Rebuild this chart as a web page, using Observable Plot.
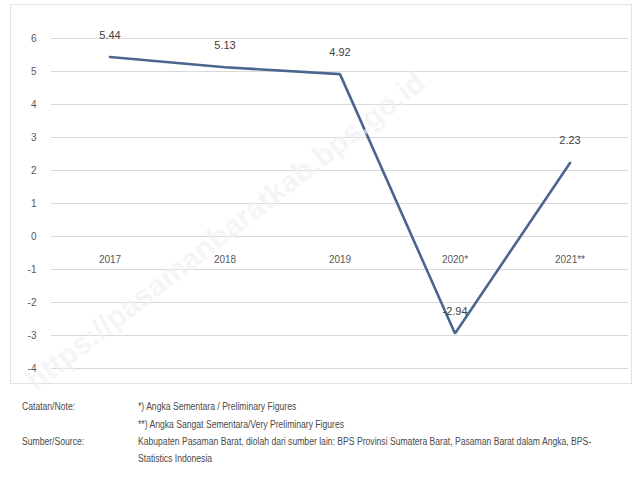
<!DOCTYPE html>
<html>
<head>
<meta charset="utf-8">
<script src="https://cdn.jsdelivr.net/npm/d3@7"></script>
<script src="https://cdn.jsdelivr.net/npm/@observablehq/plot@0.6"></script>
<style>
  html, body { margin: 0; padding: 0; background: #fff; }
  #wrap { position: relative; width: 640px; height: 491px; overflow: hidden; font-family: "Liberation Sans", Arial, sans-serif; }
  #border { position: absolute; left: 10px; top: 4px; width: 620px; height: 378px; border: 1px solid #e2e2e2; pointer-events: none; }
  #chart { position: absolute; left: 0; top: 0; }
  #wm { position: absolute; left: 0; top: 0; pointer-events: none; }
  .foot { position: absolute; font-size: 10px; color: #4a4a4a; white-space: nowrap; transform: scaleX(0.86); transform-origin: 0 0; }
</style>
</head>
<body>
<div id="wrap">
  <div id="chart"></div>
  <div id="border"></div>
  <div id="footer"></div>
</div>
<script>
const years = ["2017", "2018", "2019", "2020*", "2021**"];
const growth = [5.44, 5.13, 4.92, -2.94, 2.23];
const labels = ["5.44", "5.13", "4.92", "-2.94", "2.23"];
const yTicks = [6, 5, 4, 3, 2, 1, 0, -1, -2, -3, -4];
const noteLabel = "Catatan/Note:";
const notes = ["*) Angka Sementara / Preliminary Figures", "**) Angka Sangat Sementara/Very Preliminary Figures"];
const sourceLabel = "Sumber/Source:";
const sourceLines = ["Kabupaten Pasaman Barat, diolah dari sumber lain: BPS Provinsi Sumatera Barat, Pasaman Barat dalam Angka, BPS-", "Statistics Indonesia"];
const watermark = "https://pasamanbaratkab.bps.go.id";

const data = years.map((y, i) => ({year: y, value: growth[i], label: labels[i]}));

const chart = Plot.plot({
  width: 640,
  height: 385,
  marginLeft: 51,
  marginRight: 12,
  marginTop: 38,
  marginBottom: 17,
  style: {fontFamily: "'Liberation Sans', Arial, sans-serif", fontSize: "10px", color: "#595959", background: "transparent"},
  x: {type: "band", domain: years, padding: 0, axis: null},
  y: {domain: [-4, 6], axis: null},
  marks: [
    Plot.ruleY(yTicks, {stroke: "#d9d9d9", strokeWidth: 1}),
    Plot.axisY({ticks: yTicks, tickSize: 0, tickPadding: 15, tickFormat: d => String(d), label: null, fill: "#595959", fontSize: 10}),
    Plot.text(years, {x: d => d, y: () => 0, dy: 23, fill: "#595959", fontSize: 10}),
    Plot.line(data, {x: "year", y: "value", stroke: "#4a6690", strokeWidth: 2.6, strokeLinejoin: "miter"}),
    Plot.text(data, {x: "year", y: "value", text: "label", dy: -22, fill: "#404040", fontSize: 11})
  ]
});
document.getElementById("chart").appendChild(chart);

// watermark
const svgNS = "http://www.w3.org/2000/svg";
const wm = document.createElementNS(svgNS, "svg");
wm.setAttribute("id", "wm");
wm.setAttribute("width", 640);
wm.setAttribute("height", 491);
const t = document.createElementNS(svgNS, "text");
t.setAttribute("transform", "translate(36,392) rotate(-38)");
t.setAttribute("font-size", "30");
t.setAttribute("font-family", "'Liberation Sans', Arial, sans-serif");
t.setAttribute("font-weight", "bold");
t.setAttribute("fill", "#eef1f5");
t.setAttribute("fill-opacity", "0.7");
t.textContent = watermark;
wm.appendChild(t);
document.getElementById("wrap").appendChild(wm);

// footer
const footer = document.getElementById("footer");
function addFoot(text, x, y) {
  const d = document.createElement("div");
  d.className = "foot";
  d.style.left = x + "px";
  d.style.top = y + "px";
  d.textContent = text;
  footer.appendChild(d);
}
addFoot(noteLabel, 22, 401);
addFoot(notes[0], 138, 401);
addFoot(notes[1], 138, 419);
addFoot(sourceLabel, 22, 436);
addFoot(sourceLines[0], 138, 436);
addFoot(sourceLines[1], 138, 453);
</script>
</body>
</html>
